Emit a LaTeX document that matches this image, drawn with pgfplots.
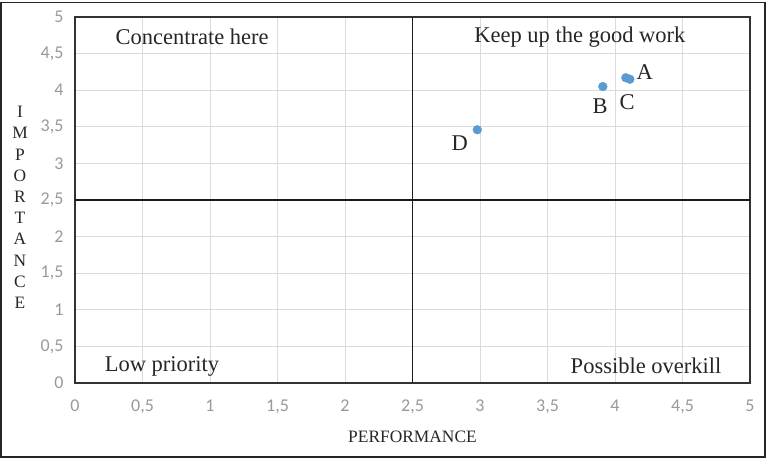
\documentclass[border=0pt]{standalone}
\usepackage{fontspec}
\setmainfont{Liberation Serif}
\newfontfamily\calibri{Carlito}
\usepackage{pgfplots}
\pgfplotsset{compat=1.18}
\definecolor{ptblue}{RGB}{91,155,213}
\begin{document}
\begin{tikzpicture}[x=1pt,y=1pt]
\path[use as bounding box] (-75,-83) rectangle (698,383);
\draw[line width=1.6pt, black!85] (-74,-74) rectangle (690,380.5);
\begin{axis}[at={(0,0)}, anchor=south west, scale only axis,
  width=675pt, height=366pt,
  xmin=0, xmax=5, ymin=0, ymax=5,
  xtick={0,0.5,1,1.5,2,2.5,3,3.5,4,4.5,5},
  ytick={0,0.5,1,1.5,2,2.5,3,3.5,4,4.5,5},
  grid=major, grid style={black!14, line width=0.9pt},
  axis line style={black!80, line width=1.5pt},
  tick style={draw=none},
  tick label style={font=\calibri\fontsize{18}{18}\selectfont, text=black!40},
  /pgf/number format/use comma,
  /pgf/number format/1000 sep={},
  /pgf/number format/assume math mode=true,
  xticklabel style={yshift=-13pt},
  yticklabel style={xshift=-8pt},
  clip=false,
]
\addplot[only marks, mark=*, mark size=4.4pt, color=ptblue] coordinates {
(4.11,4.15) (3.91,4.05) (4.08,4.17) (2.98,3.46)};
\draw[black!90, line width=1.8pt] (axis cs:2.5,0) -- (axis cs:2.5,5);
\draw[black!90, line width=1.8pt] (axis cs:0,2.5) -- (axis cs:5,2.5);
\begin{scope}[every node/.style={font=\fontsize{22.5}{22.5}\selectfont, text=black!85}]
\node at (axis cs:0.867,4.73) {Concentrate here};
\node at (axis cs:3.74,4.73) {Keep up the good work};
\node at (axis cs:0.644,0.23) {Low priority};
\node at (axis cs:4.23,0.23) {Possible overkill};
\node at (axis cs:4.22,4.25) {A};
\node at (axis cs:4.09,3.83) {C};
\node at (axis cs:3.89,3.78) {B};
\node at (axis cs:2.85,3.28) {D};
\end{scope}
\end{axis}
\node[font=\fontsize{17.4}{17.4}\selectfont, text=black!85] at (337.5,-54) {PERFORMANCE};
\node[font=\fontsize{17.4}{21.2}\selectfont, text=black!85, align=center] at (-55,175.5) {I\\M\\P\\O\\R\\T\\A\\N\\C\\E};
\end{tikzpicture}
\end{document}
